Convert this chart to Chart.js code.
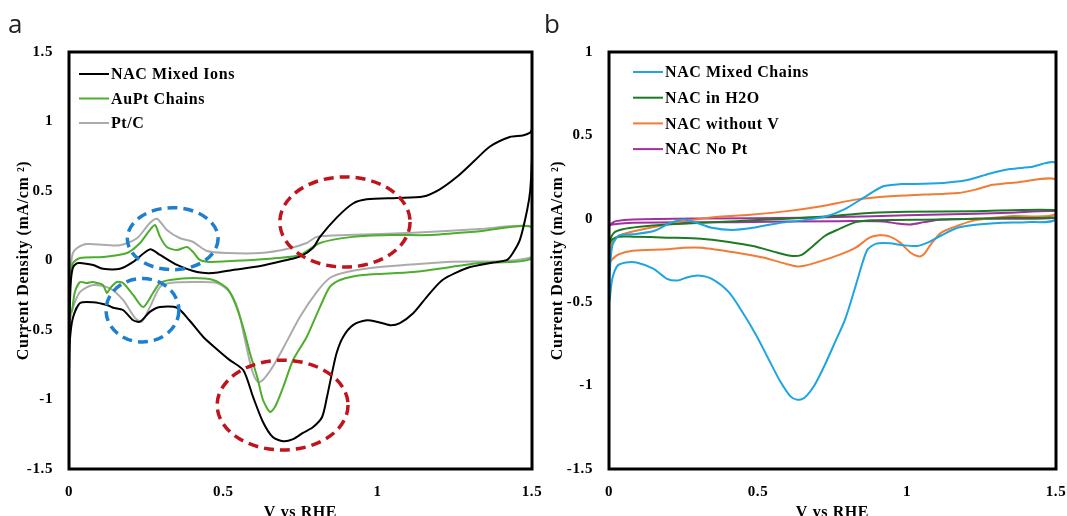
<!DOCTYPE html>
<html>
<head>
<meta charset="utf-8">
<script src="https://cdn.jsdelivr.net/npm/chart.js@4.4.1/dist/chart.umd.min.js"></script>
<style>
  html, body { margin: 0; padding: 0; background: #fff; }
  body { width: 1067px; height: 516px; overflow: hidden; position: relative; }
  canvas { position: absolute; top: 0; }
  #panelA { left: 0; }
  #panelB { left: 540px; }
</style>
</head>
<body>
<canvas id="panelA" width="545" height="523"></canvas>
<canvas id="panelB" width="527" height="523"></canvas>
<script>
// ---- panel a : CV loops (V vs RHE, mA/cm2) ----
const ionsV = [0, 0.002, 0.006, 0.013, 0.025, 0.036, 0.078, 0.11, 0.165, 0.208, 0.262, 0.295, 0.35, 0.415, 0.467, 0.53, 0.62, 0.706, 0.75, 0.79, 0.813, 0.868, 0.92, 0.965, 1.062, 1.147, 1.2, 1.256, 1.31, 1.364, 1.43, 1.47, 1.494, 1.5, 1.5, 1.494, 1.484, 1.461, 1.438, 1.419, 1.374, 1.29, 1.21, 1.16, 1.115, 1.072, 1.04, 0.997, 0.965, 0.92, 0.888, 0.867, 0.852, 0.836, 0.82, 0.79, 0.758, 0.726, 0.694, 0.66, 0.628, 0.596, 0.565, 0.52, 0.48, 0.435, 0.39, 0.35, 0.295, 0.262, 0.23, 0.208, 0.175, 0.143, 0.123, 0.078, 0.036, 0.013, 0.003, 0];
const ionsJ = [-0.8, -0.4, -0.15, -0.05, -0.02, -0.018, -0.032, -0.06, -0.06, -0.01, 0.08, 0.04, -0.032, -0.083, -0.09, -0.068, -0.04, 0.004, 0.03, 0.09, 0.17, 0.31, 0.41, 0.44, 0.45, 0.46, 0.51, 0.6, 0.71, 0.82, 0.89, 0.9, 0.92, 0.94, 0.75, 0.5, 0.36, 0.15, 0.054, 0.004, -0.015, -0.054, -0.14, -0.26, -0.38, -0.45, -0.465, -0.44, -0.43, -0.465, -0.55, -0.665, -0.81, -0.98, -1.126, -1.2, -1.24, -1.285, -1.3, -1.27, -1.16, -0.98, -0.79, -0.715, -0.64, -0.55, -0.43, -0.34, -0.335, -0.37, -0.44, -0.43, -0.356, -0.34, -0.32, -0.3, -0.306, -0.41, -0.57, -0.8];

const auptV = [0, 0.004, 0.012, 0.036, 0.11, 0.188, 0.23, 0.262, 0.279, 0.295, 0.317, 0.35, 0.382, 0.402, 0.424, 0.457, 0.564, 0.674, 0.748, 0.813, 0.92, 1.04, 1.17, 1.33, 1.5, 1.5, 1.33, 1.115, 0.952, 0.878, 0.845, 0.813, 0.77, 0.726, 0.694, 0.668, 0.651, 0.628, 0.61, 0.586, 0.564, 0.538, 0.512, 0.467, 0.402, 0.327, 0.295, 0.272, 0.24, 0.208, 0.175, 0.155, 0.133, 0.123, 0.11, 0.091, 0.075, 0.058, 0.036, 0.019, 0.01, 0.003, 0];
const auptJ = [-0.4, -0.15, -0.02, 0.018, 0.025, 0.054, 0.126, 0.22, 0.255, 0.17, 0.097, 0.075, 0.097, 0.061, 0.004, -0.01, 0.0, 0.018, 0.04, 0.126, 0.17, 0.183, 0.183, 0.21, 0.24, 0.015, -0.018, -0.083, -0.104, -0.14, -0.19, -0.335, -0.55, -0.716, -0.91, -1.05, -1.09, -1.0, -0.84, -0.665, -0.478, -0.306, -0.2, -0.14, -0.126, -0.14, -0.162, -0.234, -0.335, -0.248, -0.162, -0.155, -0.2, -0.234, -0.176, -0.162, -0.155, -0.162, -0.155, -0.226, -0.356, -0.38, -0.4];

const ptcV = [0, 0.004, 0.012, 0.026, 0.058, 0.165, 0.22, 0.262, 0.285, 0.317, 0.36, 0.402, 0.447, 0.512, 0.62, 0.706, 0.77, 0.803, 0.9, 1.115, 1.33, 1.5, 1.5, 1.224, 1.007, 0.9, 0.845, 0.803, 0.748, 0.706, 0.66, 0.628, 0.612, 0.593, 0.57, 0.548, 0.52, 0.48, 0.402, 0.327, 0.295, 0.262, 0.236, 0.214, 0.175, 0.133, 0.078, 0.036, 0.013, 0.003, 0];
const ptcJ = [-0.45, -0.1, 0.05, 0.09, 0.118, 0.11, 0.16, 0.27, 0.3, 0.22, 0.16, 0.133, 0.068, 0.054, 0.054, 0.083, 0.126, 0.17, 0.183, 0.2, 0.226, 0.24, 0.025, -0.01, -0.047, -0.083, -0.126, -0.226, -0.406, -0.58, -0.765, -0.86, -0.874, -0.79, -0.57, -0.356, -0.226, -0.162, -0.155, -0.162, -0.19, -0.335, -0.44, -0.413, -0.284, -0.2, -0.176, -0.226, -0.335, -0.43, -0.45];

// ---- panel b ----
const chainsV = [0, 0.002, 0.011, 0.034, 0.08, 0.15, 0.207, 0.253, 0.287, 0.345, 0.414, 0.483, 0.563, 0.655, 0.724, 0.793, 0.862, 0.92, 0.977, 1.057, 1.138, 1.207, 1.276, 1.345, 1.414, 1.5, 1.5, 1.402, 1.32, 1.23, 1.17, 1.115, 1.069, 1.034, 0.989, 0.943, 0.897, 0.868, 0.851, 0.828, 0.793, 0.759, 0.724, 0.69, 0.655, 0.632, 0.609, 0.575, 0.54, 0.494, 0.448, 0.402, 0.345, 0.299, 0.264, 0.23, 0.195, 0.15, 0.092, 0.057, 0.029, 0.011, 0.002, 0];
const chainsJ = [-0.5, -0.35, -0.16, -0.1, -0.093, -0.073, -0.024, -0.004, -0.02, -0.054, -0.067, -0.054, -0.028, -0.008, 0.012, 0.06, 0.135, 0.195, 0.208, 0.21, 0.218, 0.234, 0.27, 0.298, 0.31, 0.333, 0.0, -0.02, -0.024, -0.036, -0.054, -0.1, -0.143, -0.163, -0.159, -0.147, -0.149, -0.183, -0.262, -0.4, -0.6, -0.738, -0.877, -0.996, -1.075, -1.085, -1.065, -0.976, -0.857, -0.698, -0.56, -0.44, -0.36, -0.34, -0.35, -0.37, -0.36, -0.3, -0.262, -0.262, -0.28, -0.36, -0.49, -0.5];

const waterV = [0, 0.002, 0.017, 0.046, 0.103, 0.195, 0.31, 0.425, 0.54, 0.655, 0.77, 0.885, 1.0, 1.23, 1.5, 1.5, 1.345, 1.115, 0.885, 0.828, 0.77, 0.724, 0.678, 0.644, 0.609, 0.563, 0.483, 0.402, 0.31, 0.195, 0.08, 0.034, 0.011, 0.002, 0];
const waterJ = [-0.16, -0.13, -0.083, -0.063, -0.048, -0.034, -0.024, -0.014, -0.004, 0.006, 0.02, 0.036, 0.042, 0.046, 0.052, 0.01, 0.006, -0.004, -0.008, -0.02, -0.063, -0.103, -0.173, -0.218, -0.222, -0.202, -0.163, -0.139, -0.119, -0.113, -0.107, -0.107, -0.123, -0.15, -0.16];

const noVV = [0, 0.002, 0.017, 0.046, 0.103, 0.195, 0.253, 0.368, 0.483, 0.598, 0.713, 0.828, 0.943, 1.057, 1.172, 1.23, 1.287, 1.368, 1.5, 1.5, 1.345, 1.23, 1.172, 1.115, 1.08, 1.057, 1.04, 1.011, 0.977, 0.943, 0.908, 0.874, 0.828, 0.77, 0.713, 0.655, 0.632, 0.598, 0.517, 0.425, 0.31, 0.253, 0.195, 0.08, 0.034, 0.011, 0.002, 0];
const noVJ = [-0.28, -0.2, -0.123, -0.093, -0.067, -0.034, -0.014, 0.012, 0.026, 0.046, 0.075, 0.115, 0.135, 0.145, 0.155, 0.175, 0.204, 0.218, 0.234, 0.03, 0.016, -0.008, -0.04, -0.083, -0.153, -0.212, -0.226, -0.202, -0.143, -0.107, -0.099, -0.113, -0.173, -0.218, -0.252, -0.282, -0.286, -0.272, -0.232, -0.202, -0.173, -0.173, -0.183, -0.192, -0.212, -0.242, -0.265, -0.28];

const noPtV = [0, 0.011, 0.023, 0.08, 0.31, 0.655, 0.885, 1.115, 1.345, 1.5, 1.5, 1.23, 1.115, 1.057, 1.011, 0.966, 0.92, 0.77, 0.425, 0.08, 0.011, 0];
const noPtJ = [-0.04, -0.025, -0.014, -0.004, 0.002, 0.006, 0.016, 0.026, 0.036, 0.046, 0.006, 0.0, -0.004, -0.02, -0.034, -0.028, -0.016, -0.014, -0.02, -0.024, -0.034, -0.04];

// ticks
const xTicks = [0, 0.5, 1, 1.5];
const yTicksA = [-1.5, -1, -0.5, 0, 0.5, 1, 1.5];
const yTicksB = [-1.5, -1, -0.5, 0, 0.5, 1];

// dashed ellipses marked on panel a (centre and radii in data units)
const markV = [0.336, 0.238, 0.894, 0.692];
const markJ = [0.157, -0.358, 0.277, -1.04];
const markRV = [0.147, 0.118, 0.211, 0.212];
const markRJ = [0.223, 0.228, 0.324, 0.323];
const markColor = ['#1f7fcf', '#1f7fcf', '#c0141c', '#c0141c'];

const SERIF = "'Liberation Serif', 'Times New Roman', serif";

function pts(vs, js) {
  return vs.map((v, i) => ({ x: v, y: js[i] }));
}

function line(label, vs, js, color) {
  return {
    label,
    data: pts(vs, js),
    showLine: true,
    borderColor: color,
    backgroundColor: color,
    borderWidth: 2,
    pointRadius: 0,
    tension: 0.25,
  };
}

const decorPlugin = {
  id: 'decor',
  beforeDraw(chart) {
    chart.ctx.letterSpacing = '0.6px';
  },
  afterDatasetsDraw(chart, args, opts) {
    if (!opts.marks) return;
    const { ctx, scales: { x, y } } = chart;
    ctx.save();
    ctx.lineWidth = 3.5;
    ctx.setLineDash([10, 6]);
    markV.forEach((v, i) => {
      const cx = x.getPixelForValue(v);
      const cy = y.getPixelForValue(markJ[i]);
      const rx = Math.abs(x.getPixelForValue(v + markRV[i]) - cx);
      const ry = Math.abs(y.getPixelForValue(markJ[i] + markRJ[i]) - cy);
      ctx.strokeStyle = markColor[i];
      ctx.beginPath();
      ctx.ellipse(cx, cy, rx, ry, 0, 0, Math.PI * 2);
      ctx.stroke();
    });
    ctx.restore();
  },
  afterDraw(chart, args, opts) {
    const { ctx, chartArea: a } = chart;
    ctx.save();
    // frame
    ctx.strokeStyle = '#000';
    ctx.lineWidth = 3;
    ctx.strokeRect(a.left, a.top, a.right - a.left, a.bottom - a.top);

    // legend inside the plot
    ctx.font = `bold 16px ${SERIF}`;
    ctx.textBaseline = 'middle';
    ctx.textAlign = 'left';
    chart.data.datasets.forEach((ds, i) => {
      const yy = a.top + opts.legendTop + i * opts.legendGap;
      const x0 = a.left + opts.legendLeft;
      ctx.strokeStyle = ds.borderColor;
      ctx.lineWidth = 2;
      ctx.beginPath();
      ctx.moveTo(x0, yy);
      ctx.lineTo(x0 + 30, yy);
      ctx.stroke();
      ctx.fillStyle = '#000';
      ctx.fillText(ds.label, x0 + 32, yy + 1);
    });

    // panel letter
    ctx.letterSpacing = '0px';
    ctx.font = "26px 'Open Sans', sans-serif";
    ctx.textBaseline = 'alphabetic';
    ctx.fillStyle = '#222';
    ctx.fillText(opts.panel, opts.panelX, 33);
    ctx.restore();
  },
};

function makeChart(id, datasets, yMin, yMax, yTicks, right, titleX, decor) {
  return new Chart(document.getElementById(id), {
    type: 'scatter',
    data: { datasets },
    plugins: [decorPlugin],
    options: {
      responsive: false,
      animation: false,
      layout: { padding: { top: 52, right, left: 0, bottom: 0 } },
      plugins: {
        legend: { display: false },
        tooltip: { enabled: false },
        decor,
      },
      scales: {
        x: {
          type: 'linear',
          min: 0,
          max: 1.5,
          afterBuildTicks: (s) => { s.ticks = xTicks.map((v) => ({ value: v })); },
          afterFit: (s) => { s.height = 54; s.paddingLeft = 0; s.paddingRight = 0; },
          grid: { display: false, drawTicks: false },
          border: { display: false },
          ticks: {
            padding: 14,
            color: '#000',
            font: { family: SERIF, size: 15, weight: 'bold' },
            callback: (v) => String(v),
          },
          title: {
            display: true,
            text: 'V vs RHE',
            color: '#000',
            padding: { top: 0, bottom: 1 },
            font: { family: SERIF, size: 16, weight: 'bold' },
          },
        },
        y: {
          type: 'linear',
          min: yMin,
          max: yMax,
          afterBuildTicks: (s) => { s.ticks = yTicks.map((v) => ({ value: v })); },
          afterFit: (s) => { s.width = 69; s.paddingTop = 0; s.paddingBottom = 0; },
          grid: { display: false, drawTicks: false },
          border: { display: false },
          ticks: {
            padding: 16,
            color: '#000',
            font: { family: SERIF, size: 15, weight: 'bold' },
            callback: (v) => String(v),
          },
          title: {
            display: true,
            text: 'Current Density (mA/cm \u00B2)',
            color: '#000',
            padding: { top: titleX, bottom: 0 },
            font: { family: SERIF, size: 16, weight: 'bold' },
          },
        },
      },
    },
  });
}

makeChart('panelA', [
  line('NAC Mixed Ions', ionsV, ionsJ, '#000000'),
  line('AuPt Chains', auptV, auptJ, '#4cae2c'),
  line('Pt/C', ptcV, ptcJ, '#ababab'),
], -1.5, 1.5, yTicksA, 13, 14, {
  marks: true, legendLeft: 10, legendTop: 22, legendGap: 24.5, panel: 'a', panelX: 8,
});

makeChart('panelB', [
  line('NAC Mixed Chains', chainsV, chainsJ, '#1ea5e0'),
  line('NAC in H2O', waterV, waterJ, '#1d7a24'),
  line('NAC without V', noVV, noVJ, '#f27b35'),
  line('NAC No Pt', noPtV, noPtJ, '#a0309f'),
], -1.5, 1, yTicksB, 11, 8, {
  marks: false, legendLeft: 24, legendTop: 20, legendGap: 25.7, panel: 'b', panelX: 4,
});
</script>
</body>
</html>
